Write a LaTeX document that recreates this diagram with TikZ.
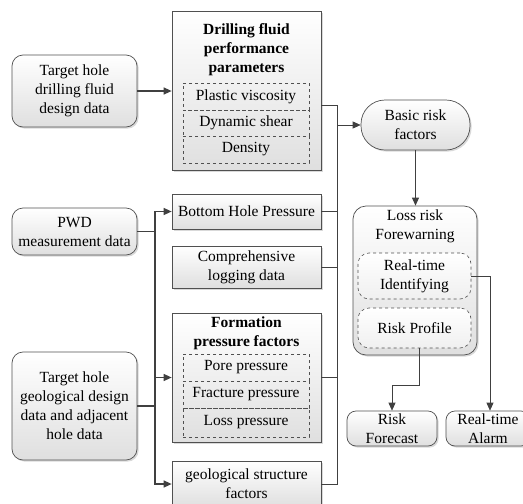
\documentclass[tikz,border=0pt]{standalone}
\usepackage{fontspec}
\setmainfont{Liberation Serif}
\usetikzlibrary{arrows.meta,shadows,calc}
\definecolor{boxc}{HTML}{505050}
\definecolor{linec}{HTML}{404040}
\newcommand{\fs}{\fontsize{15.5}{19}\selectfont}
\tikzset{
  box/.style={draw=boxc, line width=0.7pt, top color=white, bottom color=gray!25,
    drop shadow={shadow xshift=1.6pt, shadow yshift=-1.6pt, opacity=.3},
    align=center, inner sep=0pt, font=\fs},
  rbox/.style={box, rounded corners=11pt},
  drow/.style={draw=boxc, dashed, line width=0.6pt, inner sep=0pt, font=\fs, align=center},
  drbox/.style={drow, rounded corners=11pt, top color=white, bottom color=gray!12},
  ttl/.style={align=center, inner sep=0pt, font=\fs\bfseries},
  thk/.style={draw=linec, line width=1.3pt},
  thn/.style={draw=linec, line width=0.7pt},
  arr/.style={-{Triangle[length=8pt,width=7pt]}},
}
\begin{document}
\begin{tikzpicture}[x=1pt,y=-1pt]
\useasboundingbox (0,0) rectangle (523,504);
\clip (0,0) rectangle (523,504);
% left column
\node[rbox, minimum width=125pt, minimum height=72pt] (L1) at (74.5,91) {Target hole\\drilling fluid\\design data};
\node[rbox, minimum width=125pt, minimum height=47pt] (L2) at (74.5,231.5) {PWD\\measurement data};
\node[rbox, minimum width=125pt, minimum height=108pt] (L3) at (74.5,406) {Target hole\\geological design\\data and adjacent\\hole data};
% centre column
\node[box, minimum width=149pt, minimum height=159pt] (C1) at (246.5,90.5) {};
\node[ttl] (C1t) at (246.5,50) {Drilling fluid\\performance\\parameters};
\node[drow, minimum width=126pt, minimum height=27pt] (C1a) at (246,96.5) {Plastic viscosity};
\node[drow, minimum width=126pt, minimum height=26pt] (C1b) at (246,123) {Dynamic shear};
\node[drow, minimum width=126pt, minimum height=27pt] (C1c) at (246,149.5) {Density};
\node[box, minimum width=149pt, minimum height=35pt] (C2) at (246.5,211.5) {Bottom Hole Pressure};
\node[box, minimum width=149pt, minimum height=42pt] (C3) at (246.5,267) {Comprehensive\\logging data};
\node[box, minimum width=149pt, minimum height=129pt] (C4) at (246.5,377.5) {};
\node[ttl] (C4t) at (246.5,333) {Formation\\pressure factors};
\node[drow, minimum width=126pt, minimum height=27pt] (C4a) at (246,367.5) {Pore pressure};
\node[drow, minimum width=126pt, minimum height=27pt] (C4b) at (246,394.5) {Fracture pressure};
\node[drow, minimum width=126pt, minimum height=29pt] (C4c) at (246,422.5) {Loss pressure};
\node[box, minimum width=149pt, minimum height=46pt] (C5) at (246.5,484) {geological structure\\factors};
% right column
\node[box, rounded corners=24pt, minimum width=109pt, minimum height=50pt] (R1) at (415.5,125) {Basic risk\\factors};
\node[box, rounded corners=13pt, minimum width=124pt, minimum height=149pt] (R2) at (415,280.5) {};
\node[ttl, font=\fs] (R2t) at (415,226.5) {Loss risk\\Forewarning};
\node[drbox, minimum width=113pt, minimum height=46pt] (R2a) at (414.5,276) {Real-time\\Identifying};
\node[drbox, minimum width=113pt, minimum height=40pt] (R2b) at (414.5,328) {Risk Profile};
\node[rbox, rounded corners=9pt, minimum width=90pt, minimum height=35pt] (R3) at (392,428.5) {Risk\\Forecast};
\node[rbox, rounded corners=9pt, minimum width=84pt, minimum height=35pt] (R4) at (488,428.5) {Real-time\\Alarm};
% helper coordinates
\coordinate (lbus) at (155,0);
\coordinate (rbus) at (337,0);
\coordinate (ax) at (490,0);
% left connectors
\draw[thk,arr] (L1.east) -- (L1.east -| C1.west);
\draw[thk] (L2.east) -- (L2.east -| lbus);
\draw[thk,arr] (L2.east -| lbus) |- (C2.west);
\draw[thk,arr] (L2.east -| lbus) |- (C4.west);
\draw[thk,arr] (L2.east -| lbus) |- (C5.west);
\draw[thk] (L3.east) -- (L3.east -| lbus);
% right bus
\draw[thn] ([yshift=-14.5pt]C1.east) -| (rbus |- C5.east) -- (C5.east);
\draw[thn] (C2.east) -- (C2.east -| rbus);
\draw[thn] (C3.east) -- (C3.east -| rbus);
\draw[thn] (C4.east) -- (C4.east -| rbus);
\draw[thn,arr] (rbus |- R1.west) -- (R1.west);
\draw[thn,arr] (R1.south) -- (R1.south |- R2.north);
\draw[thn,arr] (R2a.east) -- (R2a.east -| ax) -- (ax |- R4.north);
\draw[thn,arr] ([xshift=4.5pt]R2b.south) -- ([xshift=4.5pt,yshift=-37pt]R2b.south) -| (R3.north);
\end{tikzpicture}
\end{document}
